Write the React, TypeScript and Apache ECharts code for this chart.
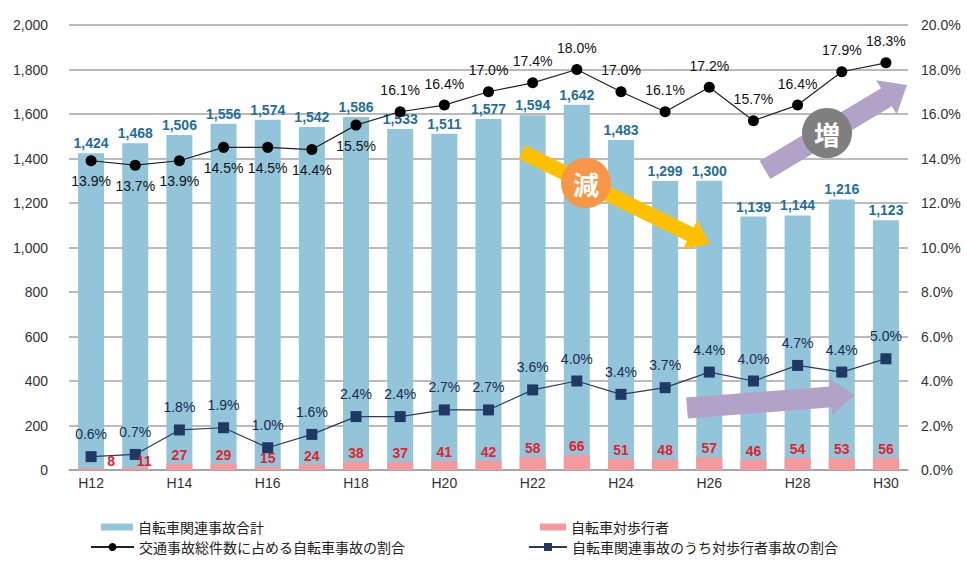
import React, { useEffect, useRef } from "react";
import * as echarts from "echarts";

const categories = [
  "H12", "H13", "H14", "H15", "H16", "H17", "H18", "H19", "H20", "H21",
  "H22", "H23", "H24", "H25", "H26", "H27", "H28", "H29", "H30",
];
const totalAccidents = [
  1424, 1468, 1506, 1556, 1574, 1542, 1586, 1533, 1511, 1577,
  1594, 1642, 1483, 1299, 1300, 1139, 1144, 1216, 1123,
];
const pedestrianAccidents = [
  8, 11, 27, 29, 15, 24, 38, 37, 41, 42, 58, 66, 51, 48, 57, 46, 54, 53, 56,
];
const bicycleShare = [
  13.9, 13.7, 13.9, 14.5, 14.5, 14.4, 15.5, 16.1, 16.4, 17.0,
  17.4, 18.0, 17.0, 16.1, 17.2, 15.7, 16.4, 17.9, 18.3,
];
const pedestrianShare = [
  0.6, 0.7, 1.8, 1.9, 1.0, 1.6, 2.4, 2.4, 2.7, 2.7,
  3.6, 4.0, 3.4, 3.7, 4.4, 4.0, 4.7, 4.4, 5.0,
];
const seriesNames = [
  "自転車関連事故合計",
  "自転車対歩行者",
  "交通事故総件数に占める自転車事故の割合",
  "自転車関連事故のうち対歩行者事故の割合",
];

const FONT = "'Liberation Sans', 'Noto Sans CJK JP', sans-serif";
const CJK = "'Noto Sans CJK JP', sans-serif";

function arrowPoints(x1: number, y1: number, x2: number, y2: number, sw: number, hw: number, hl: number) {
  const dx = x2 - x1;
  const dy = y2 - y1;
  const len = Math.sqrt(dx * dx + dy * dy);
  const ux = dx / len;
  const uy = dy / len;
  const nx = -uy;
  const ny = ux;
  const bx = x2 - ux * hl;
  const by = y2 - uy * hl;
  return [
    [x1 + nx * sw / 2, y1 + ny * sw / 2],
    [bx + nx * sw / 2, by + ny * sw / 2],
    [bx + nx * hw / 2, by + ny * hw / 2],
    [x2, y2],
    [bx - nx * hw / 2, by - ny * hw / 2],
    [bx - nx * sw / 2, by - ny * sw / 2],
    [x1 - nx * sw / 2, y1 - ny * sw / 2],
  ];
}

export default function App() {
  const ref = useRef<HTMLDivElement>(null);

  useEffect(() => {
    if (!ref.current) return;
    const chart = echarts.init(ref.current, null, { renderer: "svg" });

    const fmtPct = (v: number) => v.toFixed(1) + "%";
    // the first two small labels sit to the right of the square markers
    const pedLabelOffsets: number[][] = [[20, 2], [9, 2]];

    const option: any = {
      animation: false,
      backgroundColor: "#ffffff",
      textStyle: { fontFamily: FONT },
      grid: { left: 69, right: 59, top: 25, bottom: 93, containLabel: false },
      legend: [
        {
          data: [seriesNames[0]], left: 101, top: 520, padding: 0,
          itemWidth: 32, itemHeight: 7, icon: "rect", itemGap: 0,
          textStyle: { fontFamily: CJK, fontSize: 14, color: "#222" },
        },
        {
          data: [seriesNames[2]], left: 90, top: 540, padding: 0,
          itemWidth: 43, itemHeight: 10,
          textStyle: { fontFamily: CJK, fontSize: 14, color: "#222" },
        },
        {
          data: [seriesNames[1]], left: 540, top: 520, padding: 0,
          itemWidth: 26, itemHeight: 7, icon: "rect",
          textStyle: { fontFamily: CJK, fontSize: 14, color: "#222" },
        },
        {
          data: [seriesNames[3]], left: 528, top: 540, padding: 0,
          itemWidth: 38, itemHeight: 10,
          textStyle: { fontFamily: CJK, fontSize: 14, color: "#222" },
        },
      ],
      xAxis: {
        type: "category",
        data: categories,
        axisLine: { lineStyle: { color: "#a0a0a0", width: 1.5 } },
        axisTick: { show: false },
        axisLabel: { interval: 1, color: "#333", fontSize: 14, margin: 6, fontFamily: FONT },
      },
      yAxis: [
        {
          type: "value", min: 0, max: 2000, interval: 200,
          axisLine: { show: false }, axisTick: { show: false },
          splitLine: { lineStyle: { color: "#a3a3a3", width: 1.5 } },
          axisLabel: {
            color: "#333", fontSize: 14, margin: 21, fontFamily: FONT,
            formatter: (v: number) => v.toLocaleString("en-US"),
          },
        },
        {
          type: "value", min: 0, max: 20, interval: 2,
          axisLine: { show: false }, axisTick: { show: false },
          splitLine: { show: false },
          axisLabel: { color: "#333", fontSize: 14, margin: 13, fontFamily: FONT, formatter: fmtPct },
        },
      ],
      series: [
        {
          name: seriesNames[0], type: "bar", data: totalAccidents, barWidth: 26,
          itemStyle: { color: "#92c5da" },
          label: {
            show: true, position: "top", distance: 3, color: "#1f6f99",
            fontWeight: "bold", fontSize: 14, fontFamily: FONT,
            formatter: (p: any) => Number(p.value).toLocaleString("en-US"),
          },
          z: 2,
        },
        {
          name: seriesNames[1], type: "bar", barWidth: 26, barGap: "-100%",
          data: pedestrianAccidents.map((v, i) =>
            pedLabelOffsets[i] ? { value: v, label: { offset: pedLabelOffsets[i] } } : v
          ),
          itemStyle: { color: "#f49a9c" },
          label: {
            show: true, position: "top", distance: 2, color: "#e3242b",
            fontWeight: "bold", fontSize: 14, fontFamily: FONT,
          },
          z: 6,
        },
        {
          name: seriesNames[2], type: "line", yAxisIndex: 1,
          data: bicycleShare.map((v, i) => ({
            value: v,
            label: { position: i <= 6 ? "bottom" : "top", distance: i <= 6 ? 8 : 9 },
          })),
          symbol: "circle", symbolSize: 11,
          itemStyle: { color: "#000" },
          lineStyle: { color: "#222", width: 1.2 },
          label: { show: true, color: "#111", fontSize: 14, fontFamily: FONT, formatter: (p: any) => fmtPct(Number(p.value)) },
          z: 5,
        },
        {
          name: seriesNames[3], type: "line", yAxisIndex: 1, data: pedestrianShare,
          symbol: "rect", symbolSize: 11,
          itemStyle: { color: "#1f3864" },
          lineStyle: { color: "#2b3b5c", width: 1.2 },
          label: {
            show: true, position: "top", distance: 10, color: "#1a2a50",
            fontSize: 14, fontFamily: FONT, formatter: (p: any) => fmtPct(Number(p.value)),
          },
          z: 5,
        },
      ],
      graphic: [
        {
          type: "polygon", z: 100,
          shape: { points: arrowPoints(522, 152, 710, 244, 15, 32, 22) },
          style: { fill: "#ffc000" },
        },
        {
          type: "circle", z: 101, shape: { cx: 586, cy: 183, r: 25 },
          style: { fill: "#f79646" },
        },
        {
          type: "text", z: 102, x: 586, y: 183,
          style: {
            text: "減", fill: "#fff", fontSize: 26, fontWeight: "bold", fontFamily: CJK,
            align: "center", verticalAlign: "middle",
          },
        },
        {
          type: "polygon", z: 100,
          shape: { points: arrowPoints(765, 170, 907, 85, 21, 40, 24) },
          style: { fill: "#b3a2c7" },
        },
        {
          type: "circle", z: 101, shape: { cx: 827, cy: 133, r: 25 },
          style: { fill: "#7f7f7f" },
        },
        {
          type: "text", z: 102, x: 827, y: 133,
          style: {
            text: "増", fill: "#fff", fontSize: 26, fontWeight: "bold", fontFamily: CJK,
            align: "center", verticalAlign: "middle",
          },
        },
        {
          type: "polygon", z: 100,
          shape: { points: arrowPoints(687, 408, 855, 395, 21, 36, 24) },
          style: { fill: "#b3a2c7" },
        },
      ],
    };

    chart.setOption(option);
    return () => chart.dispose();
  }, []);

  return (
    <div
      ref={ref}
      style={{ position: "fixed", left: 0, top: 0, width: 967, height: 563, background: "#fff" }}
    />
  );
}
